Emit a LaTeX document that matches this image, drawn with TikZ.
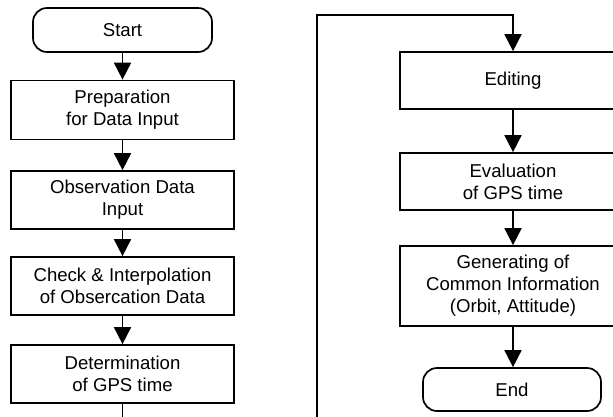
\documentclass[tikz,border=0pt]{standalone}
\usepackage{fontspec}
\setmainfont{Liberation Sans}
\usetikzlibrary{arrows.meta}
\begin{document}
\begin{tikzpicture}[x=1pt,y=-1pt,
  every node/.style={font=\fontsize{18.6}{22}\selectfont, align=center, inner sep=0pt},
  procbox/.style={draw, line width=1.7pt, rectangle, minimum height=#1},
  leftbox/.style={procbox=#1, minimum width=223pt},
  rightbox/.style={procbox=#1, minimum width=226pt},
  termbox/.style={draw, line width=1.7pt, rounded corners=14pt, minimum width=179pt, minimum height=44pt},
  flow/.style={line width=1.7pt, -{Triangle[width=17pt,length=17pt]}},
  plain/.style={line width=1.7pt}]
\useasboundingbox (0,0) rectangle (613,416);
\clip (0,0) rectangle (613,416);

% left column
\node[termbox] (start) at (122.5,30) {Start};
\node[leftbox=59pt] (prep) at (122.5,110) {Preparation\\for Data Input};
\node[leftbox=58pt] (obs) at (122.5,200) {Observation Data\\Input};
\node[leftbox=58pt] (check) at (122.5,286) {Check \& Interpolation\\of Obsercation Data};
\node[leftbox=58pt] (det) at (122.5,374) {Determination\\of GPS time};
\coordinate (leftout) at (122.5,425);

% right column
\node[rightbox=57pt] (edit) at (513,80.5) {Editing};
\node[rightbox=57pt] (eval) at (513,181.5) {Evaluation\\of GPS time};
\node[rightbox=80pt] (gen) at (513,286) {Generating of\\Common Information\\(Orbit, Attitude)};
\node[termbox, minimum width=178pt, minimum height=43pt] (end) at (512,389.5) {End};
\coordinate (rightin) at (317,425);
\coordinate (corner) at (513,15);

% connectors
\draw[flow] (start) -- (prep);
\draw[flow] (prep) -- (obs);
\draw[flow] (obs) -- (check);
\draw[flow] (check) -- (det);
\draw[plain] (det) -- (leftout);
\draw[flow] (rightin) |- (corner) -- (edit.north);
\draw[flow] (edit) -- (eval);
\draw[flow] (eval) -- (gen);
\draw[flow] (gen.south) -- (gen.south |- end.north);
\end{tikzpicture}
\end{document}
